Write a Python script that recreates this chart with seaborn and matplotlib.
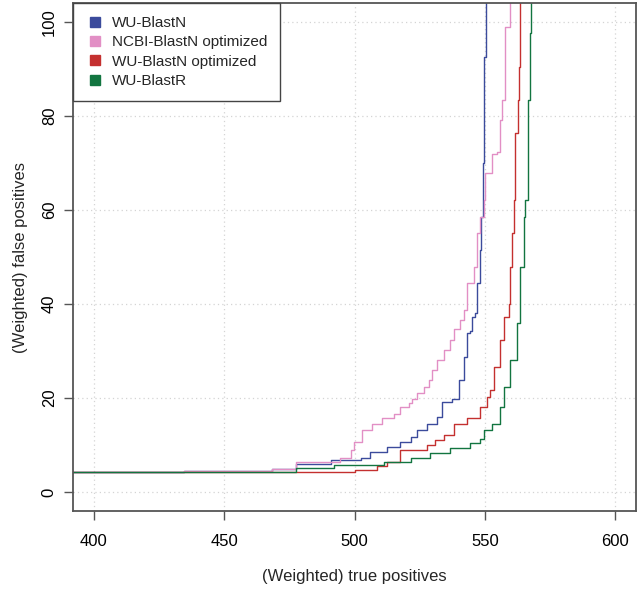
import pandas as pd
import matplotlib
matplotlib.use('Agg')
import matplotlib.pyplot as plt
from matplotlib.lines import Line2D
import seaborn as sns

# Step curves: (weighted) true positives vs false positives
wu_blastn_x = [380, 434.5, 468.5, 477.4, 490.8, 502.3, 506.1, 512.5, 517.6, 521.5, 524.0, 527.8,
               531.7, 533.6, 537.4, 540.0, 541.9, 543.2, 544.4, 545.1, 546.4, 547.0, 548.0,
               548.5, 549.3, 549.8, 550.3]
wu_blastn_y = [4.3, 4.6, 4.9, 6.1, 6.8, 7.2, 8.6, 9.6, 10.7, 11.8, 13.2, 14.6,
               16.0, 19.2, 19.9, 23.8, 28.8, 33.8, 34.2, 37.3, 38.0, 44.4, 51.5,
               58.6, 69.9, 92.6, 110]

ncbi_opt_x = [380, 434.5, 468.5, 477.4, 494.6, 498.5, 499.7, 502.9, 506.8, 510.6, 515.1, 517.6,
              520.8, 522.0, 524.0, 526.6, 528.5, 529.8, 531.7, 534.2, 536.8, 538.0, 540.6,
              541.9, 543.2, 545.7, 547.0, 548.0, 549.5, 550.2, 552.8, 554.7, 556.0, 556.6,
              557.9, 559.8]
ncbi_opt_y = [4.3, 4.6, 4.9, 6.45, 7.2, 8.9, 10.7, 13.2, 14.6, 15.7, 16.7, 18.2,
              18.9, 19.9, 21.0, 22.4, 23.8, 26.0, 28.1, 30.2, 32.3, 34.8, 36.6,
              38.7, 44.4, 47.9, 55.0, 58.6, 62.1, 67.8, 72.0, 72.4, 79.1, 83.4,
              99.0, 110]

wu_opt_x = [380, 444.8, 500.0, 508.7, 512.5, 517.6, 527.8, 531.0, 534.2, 538.0, 543.2, 548.3,
            550.8, 552.1, 553.4, 556.0, 557.2, 559.2, 559.8, 560.4, 561.0, 561.7, 562.6,
            563.0, 563.6]
wu_opt_y = [4.3, 4.4, 4.7, 5.5, 6.45, 8.9, 10.0, 11.0, 12.1, 14.6, 15.7, 18.2,
            20.3, 21.7, 26.7, 32.3, 37.3, 40.1, 47.9, 55.0, 62.1, 76.3, 83.4,
            90.5, 110]

wu_blastr_x = [380, 477.4, 492.0, 511.2, 521.5, 529.1, 536.8, 544.4, 548.3, 549.5, 552.8, 556.0,
               557.2, 559.8, 562.3, 563.6, 564.9, 565.5, 566.4, 567.2, 567.6]
wu_blastr_y = [4.3, 5.25, 5.75, 6.45, 7.2, 8.4, 9.3, 10.4, 11.4, 13.2, 14.6, 18.1,
               22.4, 28.1, 35.9, 47.9, 58.6, 62.1, 83.4, 97.6, 110]

series_names = ['WU-BlastN', 'NCBI-BlastN optimized', 'WU-BlastN optimized', 'WU-BlastR']
series_colors = ['#3b4b9c', '#e28fc5', '#c4302f', '#127540']
x_ticks = [400, 450, 500, 550, 600]
y_ticks = [0, 20, 40, 60, 80, 100]

frames = []
for name, xs, ys in zip(series_names,
                        [wu_blastn_x, ncbi_opt_x, wu_opt_x, wu_blastr_x],
                        [wu_blastn_y, ncbi_opt_y, wu_opt_y, wu_blastr_y]):
    frames.append(pd.DataFrame({'tp': xs, 'fp': ys, 'method': name}))
data = pd.concat(frames, ignore_index=True)

sns.set_style('ticks')
plt.rcParams['font.family'] = ['Liberation Sans', 'DejaVu Sans']

fig = plt.figure(figsize=(6.4, 5.92), dpi=100)
ax = fig.add_axes([0.1141, 0.1368, 0.8797, 0.8581])

ax.grid(True, color='#d4d4d4', linestyle=(0, (1, 2.5)), linewidth=0.9)
ax.set_axisbelow(True)

sns.lineplot(data=data, x='tp', y='fp', hue='method', hue_order=series_names,
             palette=series_colors, estimator=None, drawstyle='steps-post',
             linewidth=1.0, legend=False, ax=ax)

ax.set_xlim(392, 608)
ax.set_ylim(-4, 104)
ax.set_xticks(x_ticks)
ax.set_yticks(y_ticks)

for s in ax.spines.values():
    s.set_color('#555555')
    s.set_linewidth(1.3)
    s.set_visible(True)

ax.tick_params(axis='both', colors='#555555', length=6.7, width=1.0, labelsize=12,
               labelcolor='black')
ax.tick_params(axis='x', pad=9.5)
ax.tick_params(axis='y', pad=5, labelrotation=90)
for lab in ax.get_yticklabels():
    lab.set_va('center')

ax.set_xlabel('(Weighted) true positives', fontsize=12)
ax.set_ylabel('(Weighted) false positives', fontsize=12)
ax.xaxis.set_label_coords(0.5, -0.128)
ax.xaxis.label.set_va('center')
ax.yaxis.set_label_coords(-0.093, 0.5)
ax.yaxis.label.set_va('center')

handles = [Line2D([], [], linestyle='none', marker='s', markersize=7.5,
                  markerfacecolor=c, markeredgecolor=c) for c in series_colors]
leg = ax.legend(handles, series_names, loc='upper left', bbox_to_anchor=(0, 1),
                borderaxespad=0, fontsize=11, frameon=True, fancybox=False,
                framealpha=1, edgecolor='#444444', borderpad=0.85, handlelength=1.2,
                handletextpad=0.5, labelspacing=0.35)
leg.get_frame().set_linewidth(1.0)

plt.savefig('out.png', dpi=100)
